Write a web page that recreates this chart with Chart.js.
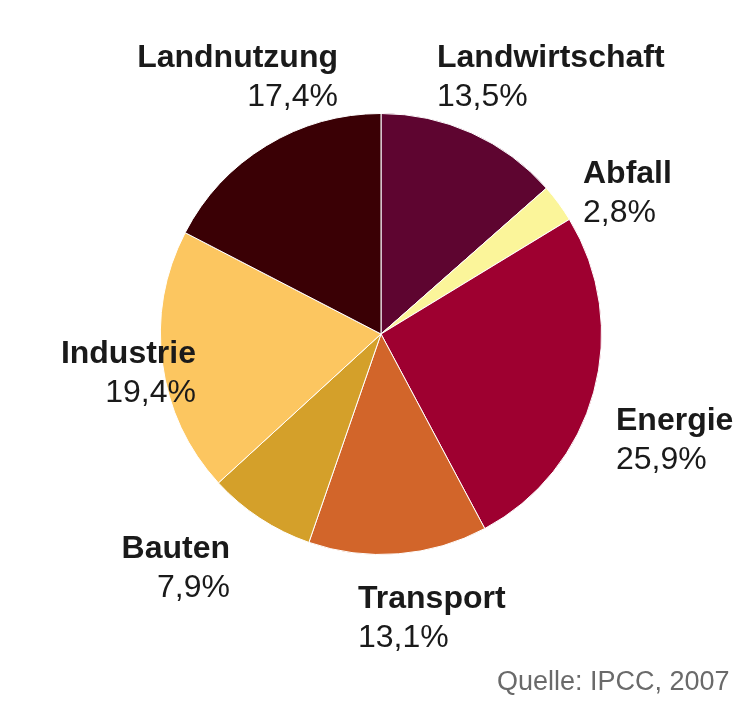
<!DOCTYPE html>
<html>
<head>
<meta charset="utf-8">
<script src="https://cdn.jsdelivr.net/npm/chart.js@4"></script>
<style>
  html, body { margin: 0; padding: 0; background: #fff; }
  #wrap { width: 734px; height: 704px; position: relative; }
</style>
</head>
<body>
<div id="wrap"><canvas id="chart1"></canvas></div>
<script>
// Anteile der Treibhausgasemissionen nach Sektor
const categories = ['Landwirtschaft', 'Abfall', 'Energie', 'Transport', 'Bauten', 'Industrie', 'Landnutzung'];
const shares = [13.5, 2.8, 25.9, 13.1, 7.9, 19.4, 17.4];
const sliceColors = ['#5e0530', '#fbf59a', '#9e0030', '#d2652a', '#d4a02a', '#fcc660', '#3a0005'];
const source = 'Quelle: IPCC, 2007';

// where each label sits, relative to the pie centre (x, first baseline)
const labelSpots = [
    { align: 'left', dx: 56, dy: -267 },
    { align: 'left', dx: 202, dy: -151 },
    { align: 'left', dx: 235, dy: 96 },
    { align: 'left', dx: -23, dy: 274 },
    { align: 'right', dx: -151, dy: 224 },
    { align: 'right', dx: -185, dy: 29 },
    { align: 'right', dx: -43, dy: -267 }
];

const fmt = v => v.toFixed(1).replace('.', ',') + '%';

const sliceLabels = {
    id: 'sliceLabels',
    afterDraw(chart) {
        const ctx = chart.ctx;
        const arcs = chart.getDatasetMeta(0).data;
        ctx.save();
        ctx.fillStyle = '#1a1a1a';
        ctx.textBaseline = 'alphabetic';
        arcs.forEach((arc, i) => {
            const spot = labelSpots[i];
            const x = arc.x + spot.dx;
            const y = arc.y + spot.dy;
            ctx.textAlign = spot.align;
            ctx.font = 'bold 32px "Liberation Sans", Arial, sans-serif';
            ctx.fillText(categories[i], x, y);
            ctx.font = '32px "Liberation Sans", Arial, sans-serif';
            ctx.fillText(fmt(shares[i]), x, y + 39);
        });
        ctx.fillStyle = '#6a6a6a';
        ctx.textAlign = 'left';
        ctx.font = '27px "Liberation Sans", Arial, sans-serif';
        ctx.fillText(source, 497, 690);
        ctx.restore();
    }
};

new Chart('chart1', {
    type: 'pie',
    data: {
        labels: categories,
        datasets: [{
            data: shares,
            backgroundColor: sliceColors,
            borderColor: '#ffffff',
            borderWidth: 1
        }]
    },
    options: {
        responsive: true,
        maintainAspectRatio: false,
        animation: false,
        rotation: 0,
        layout: { padding: { left: 160, right: 132, top: 113, bottom: 149 } },
        plugins: {
            legend: { display: false },
            tooltip: { enabled: false }
        }
    },
    plugins: [sliceLabels]
});
</script>
</body>
</html>
